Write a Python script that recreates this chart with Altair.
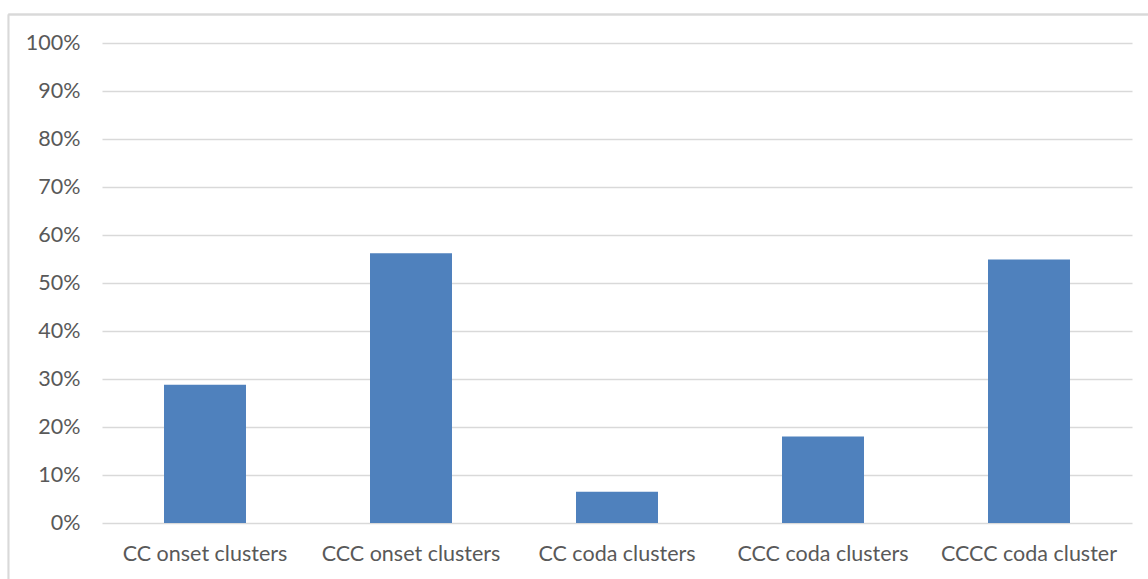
import altair as alt
import pandas as pd

# Share of cluster types (fraction of total)
categories = [
    "CC onset clusters",
    "CCC onset clusters",
    "CC coda clusters",
    "CCC coda clusters",
    "CCCC coda cluster",
]
shares = [0.288, 0.562, 0.065, 0.180, 0.549]
y_ticks = [i / 10 for i in range(11)]

df = pd.DataFrame({"category": categories, "share": shares})

FONT = "Lato"
TEXT = "#595959"
GRID = "#D9D9D9"
BAR = "#4F81BD"

bars = (
    alt.Chart(df)
    .mark_bar(color=BAR)
    .encode(
        x=alt.X(
            "category:N",
            sort=categories,
            title=None,
            scale=alt.Scale(paddingInner=0.602, paddingOuter=0.301),
            axis=alt.Axis(
                labelAngle=0,
                labelFont=FONT,
                labelFontSize=21.5,
                labelColor=TEXT,
                labelPadding=20,
                domain=False,
                ticks=False,
                grid=False,
            ),
        ),
        y=alt.Y(
            "share:Q",
            title=None,
            scale=alt.Scale(domain=[0, 1]),
            axis=alt.Axis(
                values=y_ticks,
                format=".0%",
                labelFont=FONT,
                labelFontSize=21.5,
                labelColor=TEXT,
                labelPadding=22,
                domain=False,
                ticks=False,
                grid=True,
                gridColor=GRID,
                gridWidth=1.3,
            ),
        ),
    )
)

# Outer frame of the chart area (top and left edges)
frame_top = alt.Chart(df).mark_rule(color=GRID, strokeWidth=1.3, clip=False).encode(
    x=alt.value(-93.5), x2=alt.value(1100), y=alt.value(-28.5)
)
frame_left = alt.Chart(df).mark_rule(color=GRID, strokeWidth=1.3, clip=False).encode(
    x=alt.value(-93.5), y=alt.value(-28.5), y2=alt.value(600)
)

chart = (
    alt.layer(bars, frame_top, frame_left)
    .properties(
        width=1030,
        height=480,
        autosize=alt.AutoSizeParams(type="none"),
        padding={"left": 102, "top": 43, "right": 16, "bottom": 56},
        background="white",
    )
    .configure_view(stroke=None)
)

chart.save("out.html", embed_options={"renderer": "svg", "actions": False})
